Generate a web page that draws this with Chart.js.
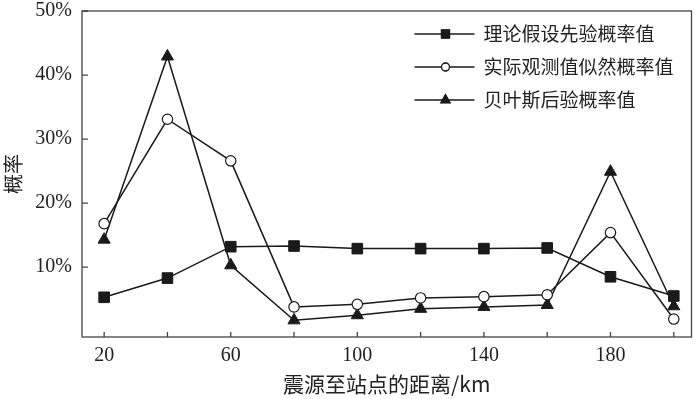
<!DOCTYPE html>
<html>
<head>
<meta charset="utf-8">
<script src="https://cdn.jsdelivr.net/npm/chart.js@4"></script>
<style>
  html, body { margin: 0; padding: 0; background: #fff; }
  #wrap { width: 700px; height: 399px; }
</style>
</head>
<body>
<div id="wrap"><canvas id="probChart" width="700" height="399"></canvas></div>
<script>
// distances (km) and the three probability series (%)
const distances = [20, 40, 60, 80, 100, 120, 140, 160, 180, 200];
const priorProb = [5.3, 8.3, 13.2, 13.3, 12.9, 12.9, 12.9, 13.0, 8.5, 5.5];
const likelihoodProb = [16.8, 33.1, 26.6, 3.8, 4.2, 5.2, 5.4, 5.7, 15.4, 1.9];
const posteriorProb = [14.3, 42.9, 10.3, 1.7, 2.5, 3.5, 3.8, 4.1, 24.9, 3.9];

const seriesNames = ['理论假设先验概率值', '实际观测值似然概率值', '贝叶斯后验概率值'];
const xTicks = [20, 40, 60, 80, 100, 120, 140, 160, 180, 200];
const xLabels = [20, 60, 100, 140, 180];
const yTicks = [10, 20, 30, 40, 50];

const serif = "'Liberation Serif', 'DejaVu Serif', serif";
const cjk = "'Noto Sans CJK SC', sans-serif";
const ink = '#1a1a1a';

function toPoints(values) {
    return values.map((v, i) => ({ x: distances[i], y: v }));
}

// box around the plot, inward tick marks and the legend inside the frame
const framePlugin = {
    id: 'frame',
    afterDraw(chart) {
        const { ctx, chartArea: a, scales } = chart;
        ctx.save();
        ctx.strokeStyle = '#444';
        ctx.lineWidth = 1.3;
        ctx.strokeRect(a.left, a.top, a.right - a.left, a.bottom - a.top);

        ctx.beginPath();
        xTicks.forEach(v => {
            const px = scales.x.getPixelForValue(v);
            ctx.moveTo(px, a.bottom);
            ctx.lineTo(px, a.bottom - 5);
        });
        yTicks.forEach(v => {
            const py = scales.y.getPixelForValue(v);
            ctx.moveTo(a.left, py);
            ctx.lineTo(a.left + 6, py);
        });
        ctx.stroke();

        // legend
        const lx = a.right - 277;
        const ly = a.top + 23;
        chart.data.datasets.forEach((ds, i) => {
            const y = ly + i * 33;
            ctx.strokeStyle = ink;
            ctx.lineWidth = 1.5;
            ctx.beginPath();
            ctx.moveTo(lx, y);
            ctx.lineTo(lx + 60, y);
            ctx.stroke();
            Chart.helpers.drawPoint(ctx, {
                pointStyle: ds.pointStyle,
                radius: ds.pointRadius * 0.75,
                borderWidth: ds.pointBorderWidth
            }, lx + 31, y);
            ctx.fillStyle = ds.pointBackgroundColor;
            ctx.strokeStyle = ds.pointBorderColor;
            ctx.lineWidth = ds.pointBorderWidth;
            ctx.fill();
            ctx.stroke();
            ctx.fillStyle = '#222';
            ctx.font = '19px ' + cjk;
            ctx.textBaseline = 'middle';
            ctx.textAlign = 'left';
            ctx.fillText(ds.label, lx + 69, y);
        });
        ctx.restore();
    }
};

const ctx = document.getElementById('probChart').getContext('2d');
const probChart = new Chart(ctx, {
    type: 'line',
    data: {
        datasets: [
            {
                label: seriesNames[0],
                data: toPoints(priorProb),
                borderColor: ink,
                borderWidth: 1.5,
                pointStyle: 'rect',
                pointRadius: 7.5,
                pointBackgroundColor: ink,
                pointBorderColor: ink,
                pointBorderWidth: 1
            },
            {
                label: seriesNames[1],
                data: toPoints(likelihoodProb),
                borderColor: ink,
                borderWidth: 1.5,
                pointStyle: 'circle',
                pointRadius: 5.2,
                pointBackgroundColor: '#fff',
                pointBorderColor: ink,
                pointBorderWidth: 1.2
            },
            {
                label: seriesNames[2],
                data: toPoints(posteriorProb),
                borderColor: ink,
                borderWidth: 1.5,
                pointStyle: 'triangle',
                pointRadius: 7,
                pointBackgroundColor: ink,
                pointBorderColor: ink,
                pointBorderWidth: 1
            }
        ]
    },
    options: {
        responsive: false,
        animation: false,
        layout: { padding: { left: 0, right: 3, top: 11, bottom: 0 } },
        plugins: {
            legend: { display: false },
            tooltip: { enabled: false }
        },
        scales: {
            x: {
                type: 'linear',
                min: 13,
                max: 205.6,
                afterBuildTicks: scale => { scale.ticks = xLabels.map(v => ({ value: v })); },
                afterFit: scale => {
                    scale.height = 62;
                    scale.paddingLeft = 0;
                    scale.paddingRight = 0;
                },
                grid: { display: false, drawTicks: false },
                border: { display: false },
                ticks: {
                    padding: 7,
                    color: '#222',
                    font: { family: serif, size: 20 }
                },
                title: {
                    display: true,
                    text: '震源至站点的距离/km',
                    color: '#222',
                    font: { family: cjk, size: 21 },
                    padding: { top: 0, bottom: 2 }
                }
            },
            y: {
                min: -0.9,
                max: 50,
                afterBuildTicks: scale => { scale.ticks = yTicks.map(v => ({ value: v })); },
                afterFit: scale => {
                    scale.width = 82;
                    scale.paddingTop = 0;
                    scale.paddingBottom = 0;
                },
                grid: { display: false, drawTicks: false },
                border: { display: false },
                ticks: {
                    padding: 10,
                    color: '#222',
                    font: { family: serif, size: 20 },
                    callback: v => v + '%'
                },
                title: {
                    display: true,
                    text: '概率',
                    color: '#222',
                    font: { family: cjk, size: 20 },
                    padding: { top: 1, bottom: 0 }
                }
            }
        }
    },
    plugins: [framePlugin]
});
</script>
</body>
</html>
